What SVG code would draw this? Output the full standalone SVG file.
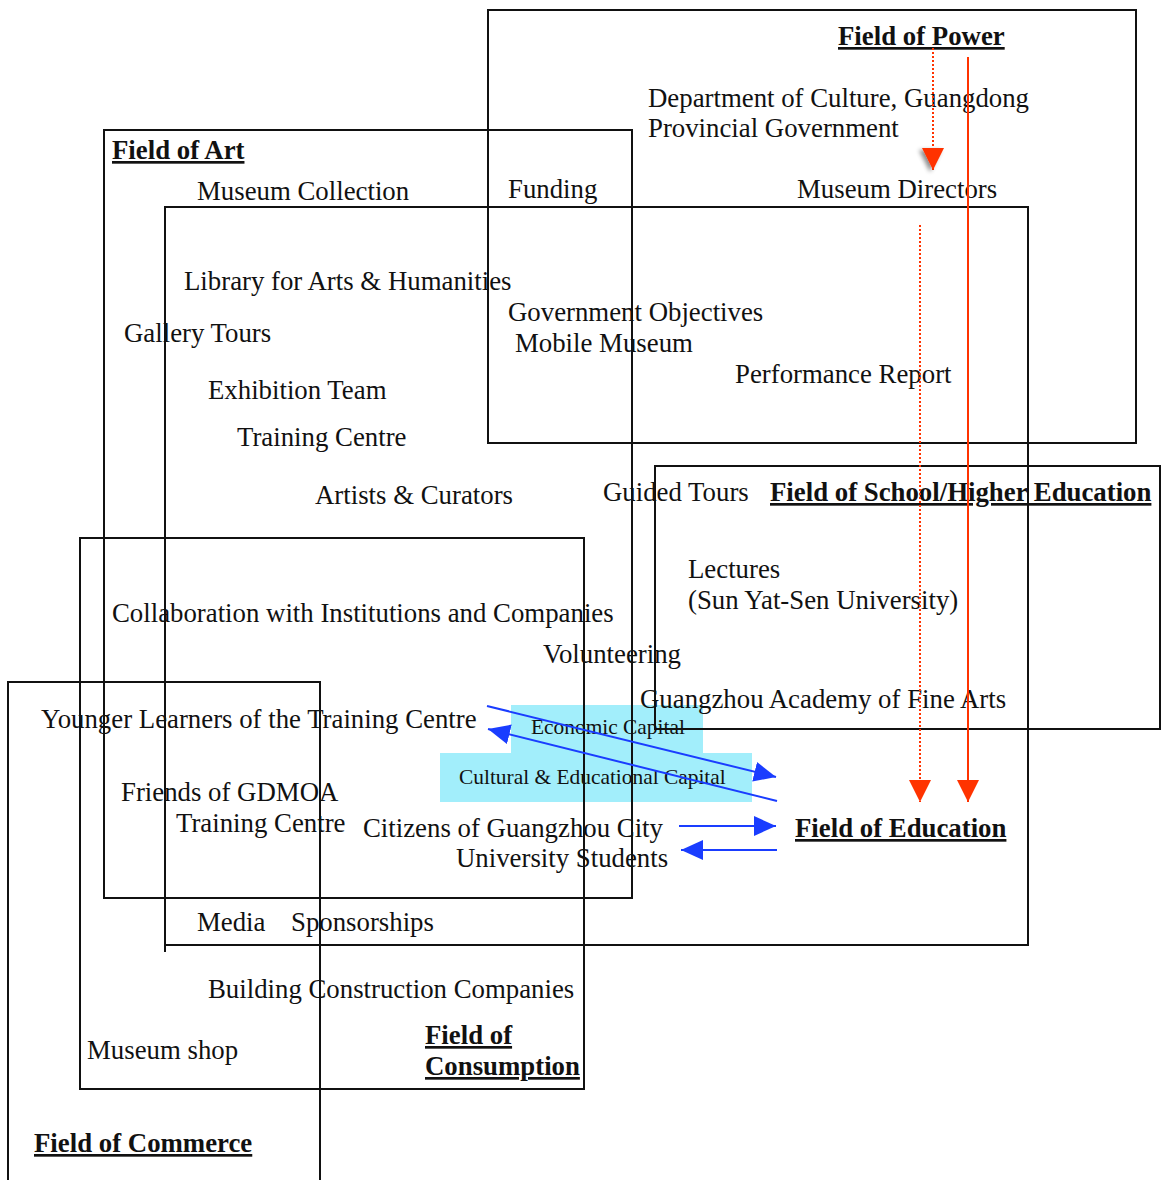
<svg xmlns="http://www.w3.org/2000/svg" width="1163" height="1180" viewBox="0 0 1163 1180">
  <style>
    text { font-family: "Liberation Serif", "Times New Roman", serif; font-size: 26.8px; fill: #111; }
    .title { font-weight: bold; text-decoration: underline; }
    .cap { font-size: 21.4px; }
    .field { fill: none; stroke: #111; stroke-width: 2; }
    .capbox { fill: #a2eefb; }
    .red { stroke: #ff3300; stroke-width: 2; fill: none; }
    .dot { stroke-dasharray: 2 2; }
    .blue { stroke: #1a3dff; stroke-width: 2; fill: none; }
  </style>
  <defs>
    <filter id="shadow" x="-50%" y="-50%" width="200%" height="200%">
      <feDropShadow dx="2" dy="3" stdDeviation="2" flood-color="#000" flood-opacity="0.45"/>
    </filter>
    <marker id="redHead" markerUnits="userSpaceOnUse" markerWidth="24" markerHeight="24" refX="22" refY="11" orient="auto">
      <path d="M0,0 L22,11 L0,22 Z" fill="#ff3300"/>
    </marker>
    <marker id="redHeadShadow" markerUnits="userSpaceOnUse" markerWidth="34" markerHeight="34" refX="22" refY="11" orient="auto" overflow="visible">
      <path d="M0,0 L22,11 L0,22 Z" fill="#ff3300" filter="url(#shadow)"/>
    </marker>
    <marker id="blueHead" markerUnits="userSpaceOnUse" markerWidth="24" markerHeight="24" refX="22" refY="10" orient="auto">
      <path d="M0,0 L22,10 L0,20 Z" fill="#1a3dff"/>
    </marker>
  </defs>

  <!-- capital labels' shaded backgrounds -->
  <g id="capital-boxes">
    <rect class="capbox" x="511" y="705" width="192" height="48"/>
    <rect class="capbox" x="440" y="753" width="312" height="49"/>
  </g>

  <!-- field outlines -->
  <g id="field-power">
    <rect class="field" x="488" y="10" width="648" height="433"/>
    <text class="title" x="838" y="45">Field of Power</text>
    <text x="648" y="107">Department of Culture, Guangdong</text>
    <text x="648" y="137">Provincial Government</text>
    <text x="797" y="198">Museum Directors</text>
    <text x="508" y="321">Government Objectives</text>
    <text x="515" y="352">Mobile Museum</text>
    <text x="735" y="383">Performance Report</text>
  </g>

  <g id="field-art">
    <rect class="field" x="104" y="130" width="528" height="768"/>
    <text class="title" x="112" y="159">Field of Art</text>
    <text x="197" y="200">Museum Collection</text>
    <text x="508" y="198">Funding</text>
    <text x="184" y="290">Library for Arts &amp; Humanities</text>
    <text x="124" y="342">Gallery Tours</text>
    <text x="208" y="399">Exhibition Team</text>
    <text x="237" y="446">Training Centre</text>
    <text x="315" y="504">Artists &amp; Curators</text>
  </g>

  <g id="field-education">
    <path class="field" d="M165,952 V207 H1028 V945 H165"/>
    <text class="title" x="795" y="837">Field of Education</text>
    <text x="363" y="837">Citizens of Guangzhou City</text>
    <text x="456" y="867">University Students</text>
    <text x="197" y="931">Media</text>
    <text x="291" y="931">Sponsorships</text>
  </g>

  <g id="field-school">
    <rect class="field" x="655" y="466" width="505" height="263"/>
    <text x="603" y="501">Guided Tours</text>
    <text class="title" x="770" y="501">Field of School/Higher Education</text>
    <text x="688" y="578">Lectures</text>
    <text x="688" y="609">(Sun Yat-Sen University)</text>
    <text x="640" y="708">Guangzhou Academy of Fine Arts</text>
  </g>

  <g id="field-consumption">
    <rect class="field" x="80" y="538" width="504" height="551"/>
    <text x="112" y="622">Collaboration with Institutions and Companies</text>
    <text x="543" y="663">Volunteering</text>
    <text x="208" y="998">Building Construction Companies</text>
    <text x="87" y="1059">Museum shop</text>
    <text class="title" x="425" y="1044">Field of</text>
    <text class="title" x="425" y="1075">Consumption</text>
  </g>

  <g id="field-commerce">
    <path class="field" d="M8,1180 V682 H320 V1180"/>
    <text x="41" y="728">Younger Learners of the Training Centre</text>
    <text x="121" y="801">Friends of GDMOA</text>
    <text x="176" y="832">Training Centre</text>
    <text class="title" x="34" y="1152">Field of Commerce</text>
  </g>

  <g id="capital-labels">
    <text class="cap" x="531" y="734">Economic Capital</text>
    <text class="cap" x="459" y="784">Cultural &amp; Educational Capital</text>
  </g>

  <!-- flows between fields -->
  <g id="connectors">
    <line class="red dot" x1="933" y1="48" x2="933" y2="170" marker-end="url(#redHeadShadow)"/>
    <line class="red" x1="968" y1="57" x2="968" y2="802" marker-end="url(#redHead)"/>
    <line class="red dot" x1="920" y1="225" x2="920" y2="802" marker-end="url(#redHead)"/>
    <line class="blue" x1="487" y1="706" x2="776" y2="777" marker-end="url(#blueHead)"/>
    <line class="blue" x1="777" y1="801" x2="488" y2="729" marker-end="url(#blueHead)"/>
    <line class="blue" x1="679" y1="826" x2="776" y2="826" marker-end="url(#blueHead)"/>
    <line class="blue" x1="777" y1="850" x2="681" y2="850" marker-end="url(#blueHead)"/>
  </g>
</svg>
